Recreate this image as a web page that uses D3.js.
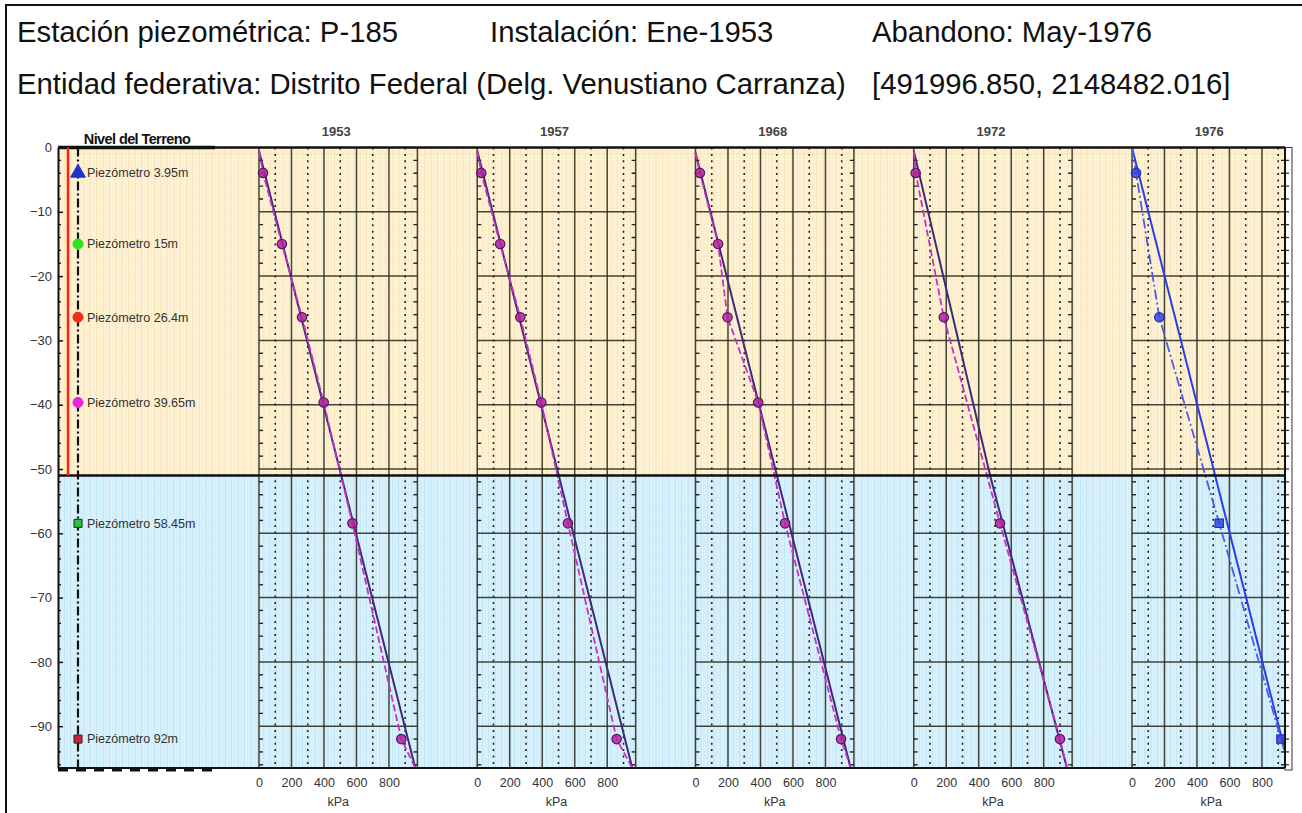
<!DOCTYPE html>
<html>
<head>
<meta charset="utf-8">
<script src="https://cdn.jsdelivr.net/npm/d3@7"></script>
<style>
  body { margin: 0; background: #fff; }
  text { font-family: "Liberation Sans", Arial, sans-serif; }
</style>
</head>
<body>
<div class="chart"></div>
<script>
// piezometer depths (m) and labels
const depths = [3.95, 15, 26.4, 39.65, 58.45, 92];
const piezoLabels = ["Piezómetro 3.95m", "Piezómetro 15m", "Piezómetro 26.4m",
                     "Piezómetro 39.65m", "Piezómetro 58.45m", "Piezómetro 92m"];
const piezoShapes = ["triangle", "circle", "circle", "circle", "square", "square"];
const piezoColors = ["#2233cc", "#33e01f", "#ee3311", "#ee22dd", "#22c838", "#cc2233"];

// measured pressures (kPa) per year, aligned with depths (null = no reading)
const years = ["1953", "1957", "1968", "1972", "1976"];
const p1953 = [25, 141, 265, 398, 575, 876];
const p1957 = [25, 141, 265, 394, 558, 858];
const p1968 = [27, 139, 197, 386, 551, 896];
const p1972 = [12, null, 185, null, 531, 900];
const p1976 = [25, null, 168, null, 537, 917];

// reference (solid) lines per year as [depth m, kPa]
const ref1953 = [[0.5, 0], [96.5, 962]];
const ref1957 = [[0.5, 0], [96.5, 954]];
const ref1968 = [[0.8, 0], [96.5, 955]];
const ref1972 = [[0.5, 0], [51, 470], [96.5, 943]];
const ref1976 = [[0, 0], [96.5, 968]];

const layerBoundary = 51;   // m, change of stratum (orange / blue)
const groundLine = 51;      // m, extent of red line
const depthTicks = d3.range(0, 91, 10);
const kpaTicks = [0, 200, 400, 600, 800];
const kpaDotted = [100, 300, 500, 700, 900];

const pressures = [p1953, p1957, p1968, p1972, p1976];
const refs = [ref1953, ref1957, ref1968, ref1972, ref1976];

const W = 1302, H = 813;
const plot = {left: 58, right: 1285, top: 147.5, bottom: 768};
const panelW = 158.4;

const symbolOf = s => s === "triangle" ? d3.symbolTriangle :
                      s === "square" ? d3.symbolSquare : d3.symbolCircle;

const svg = d3.select(".chart").append("svg")
    .attr("width", W)
    .attr("height", H);

// outer frame
svg.append("rect")
    .attr("x", 6).attr("y", 5)
    .attr("width", 1400).attr("height", 900)
    .attr("fill", "none")
    .attr("stroke", "#111")
    .attr("stroke-width", 2);

// header
const header = svg.append("g")
    .style("font-size", "29.3px")
    .attr("fill", "#111");
header.append("text").attr("x", 17).attr("y", 42).text("Estación piezométrica: P-185");
header.append("text").attr("x", 490).attr("y", 42).text("Instalación: Ene-1953");
header.append("text").attr("x", 872).attr("y", 42).text("Abandono: May-1976");
header.append("text").attr("x", 17).attr("y", 94).text("Entidad federativa: Distrito Federal (Delg. Venustiano Carranza)");
header.append("text").attr("x", 872).attr("y", 94).text("[491996.850, 2148482.016]");

const y = d3.scaleLinear()
    .domain([0, -96.5])
    .range([plot.top, plot.bottom]);

const panelX = d3.scaleLinear()
    .domain([0, years.length - 1])
    .range([259, 1132]);

svg.append("defs").append("clipPath")
    .attr("id", "plotclip")
    .append("rect")
    .attr("x", plot.left).attr("y", plot.top)
    .attr("width", plot.right - plot.left)
    .attr("height", plot.bottom - plot.top);

// backgrounds
const bgTop = y(0), bgMid = y(-layerBoundary), bgBot = plot.bottom;
svg.append("rect")
    .attr("x", plot.left).attr("y", bgTop)
    .attr("width", plot.right - plot.left).attr("height", bgMid - bgTop)
    .attr("fill", "#fef3d8");
svg.append("rect")
    .attr("x", plot.left).attr("y", bgMid)
    .attr("width", plot.right - plot.left).attr("height", bgBot - bgMid)
    .attr("fill", "#dbf2fc");

// fine background grid
const step = y(-1) - y(0);
const fine = svg.append("g").attr("class", "fine-grid");
const regions = [
    {y0: bgTop, y1: bgMid, color: "#f5d27f"},
    {y0: bgMid, y1: bgBot, color: "#93d4f0"}
];
regions.forEach(r => {
    const g = fine.append("g").attr("stroke", r.color);
    d3.range(plot.left, plot.right, step / 2).forEach((x, i) => {
        g.append("line")
            .attr("x1", x).attr("x2", x).attr("y1", r.y0).attr("y2", r.y1)
            .attr("stroke-width", 0.7)
            .attr("opacity", i % 2 ? 0.15 : 0.55);
    });
    d3.range(0, 97, 0.5).map(d => y(-d)).filter(v => v > r.y0 && v < r.y1).forEach(v => {
        g.append("line")
            .attr("x1", plot.left).attr("x2", plot.right).attr("y1", v).attr("y2", v)
            .attr("stroke-width", 0.7)
            .attr("opacity", Math.abs(((v - bgTop) / step) % 1) < 0.01 ? 0.55 : 0.15);
    });
});

// panels
const line = d3.line();
const panels = svg.append("g").attr("clip-path", "url(#plotclip)");

years.forEach((yr, i) => {
    const left = panelX(i);
    const right = Math.min(left + panelW, plot.right);
    const x = d3.scaleLinear().domain([0, 975]).range([left, left + panelW]);
    const g = panels.append("g").attr("class", "panel");
    const gridCol = "#262619";

    // horizontal grid
    depthTicks.slice(1).forEach(d => {
        g.append("line")
            .attr("x1", left).attr("x2", right)
            .attr("y1", y(-d)).attr("y2", y(-d))
            .attr("stroke", gridCol).attr("stroke-opacity", 0.85).attr("stroke-width", 1.5);
    });
    // vertical solid
    kpaTicks.concat([975]).forEach(v => {
        const xv = Math.min(x(v), right);
        g.append("line")
            .attr("x1", xv).attr("x2", xv)
            .attr("y1", plot.top).attr("y2", plot.bottom)
            .attr("stroke", gridCol).attr("stroke-opacity", 0.85).attr("stroke-width", 1.5);
    });
    // vertical dotted
    kpaDotted.filter(v => x(v) < right).forEach(v => {
        g.append("line")
            .attr("x1", x(v)).attr("x2", x(v))
            .attr("y1", plot.top).attr("y2", plot.bottom)
            .attr("stroke", "#222").attr("stroke-width", 1.6)
            .attr("stroke-dasharray", "2,4.4");
    });
    // edge ticks every 2 m
    d3.range(2, 97, 2).filter(d => d % 10).forEach(d => {
        g.append("line")
            .attr("x1", left).attr("x2", left + 4)
            .attr("y1", y(-d)).attr("y2", y(-d))
            .attr("stroke", "#222").attr("stroke-width", 1.4);
        g.append("line")
            .attr("x1", right - 4).attr("x2", right)
            .attr("y1", y(-d)).attr("y2", y(-d))
            .attr("stroke", "#222").attr("stroke-width", 1.4);
    });

    const last = i === years.length - 1;
    const solidCol = last ? "#2b3ee6" : "#3d2a78";
    const dashCol = last ? "#4c5ce8" : "#c830c4";
    const markFill = last ? "#3344e0" : "#b5229e";
    const markStroke = last ? "#1f2fbf" : "#4b1a6a";

    const pts = depths.map((d, j) => [d, pressures[i][j], j]).filter(p => p[1] !== null);
    const ref = refs[i];

    g.append("path")
        .attr("d", line(ref.map(p => [x(p[1]), y(-p[0])])))
        .attr("fill", "none")
        .attr("stroke", solidCol)
        .attr("stroke-width", 2);

    const dashed = [ref[0]].concat(pts.map(p => [p[0], p[1]]), [ref[ref.length - 1]]);
    g.append("path")
        .attr("d", line(dashed.map(p => [x(p[1]), y(-p[0])])))
        .attr("fill", "none")
        .attr("stroke", dashCol)
        .attr("stroke-width", 1.8)
        .attr("stroke-dasharray", last ? "10,3,2,3" : "7,3");

    g.selectAll(".mark")
        .data(pts)
        .enter().append("path")
        .attr("class", "mark")
        .attr("transform", p => "translate(" + x(p[1]) + "," + y(-p[0]) + ")")
        .attr("d", p => d3.symbol()
            .type(last && piezoShapes[p[2]] === "square" ? d3.symbolSquare : d3.symbolCircle)
            .size(70)())
        .attr("fill", markFill)
        .attr("fill-opacity", 0.85)
        .attr("stroke", markStroke)
        .attr("stroke-width", 1.2);

    // x axis
    const ax = svg.append("g")
        .attr("transform", "translate(0," + plot.bottom + ")")
        .call(d3.axisBottom(x).tickValues(kpaTicks).tickSize(0).tickPadding(10));
    ax.select(".domain").remove();
    ax.selectAll("text")
        .style("font-size", "12.5px")
        .style("font-family", "'Liberation Sans', Arial, sans-serif")
        .attr("fill", "#333");

    svg.append("text")
        .attr("x", left + panelW / 2)
        .attr("y", 806)
        .attr("text-anchor", "middle")
        .style("font-size", "12.5px")
        .attr("fill", "#333")
        .text("kPa");

    svg.append("text")
        .attr("x", left + panelW / 2 - 2)
        .attr("y", 136)
        .attr("text-anchor", "middle")
        .style("font-size", "13px")
        .style("font-weight", "bold")
        .attr("fill", "#444")
        .text(yr);
});

// frame lines
svg.append("line")
    .attr("x1", plot.left).attr("x2", plot.right)
    .attr("y1", y(0)).attr("y2", y(0))
    .attr("stroke", "#111").attr("stroke-width", 2.5);
svg.append("line")
    .attr("x1", plot.left).attr("x2", plot.right)
    .attr("y1", y(-layerBoundary)).attr("y2", y(-layerBoundary))
    .attr("stroke", "#111").attr("stroke-width", 2.5);
svg.append("line")
    .attr("x1", plot.left).attr("x2", plot.right)
    .attr("y1", plot.bottom).attr("y2", plot.bottom)
    .attr("stroke", "#111").attr("stroke-width", 2);

// right strip
svg.append("rect")
    .attr("x", plot.right).attr("y", plot.top)
    .attr("width", 7).attr("height", plot.bottom - plot.top + 2)
    .attr("fill", "#fff")
    .attr("stroke", "#333").attr("stroke-width", 1);
d3.range(2, 97, 2).forEach(d => {
    svg.append("line")
        .attr("x1", plot.right).attr("x2", plot.right + 4)
        .attr("y1", y(-d)).attr("y2", y(-d))
        .attr("stroke", "#222").attr("stroke-width", 1.2);
});
svg.append("line")
    .attr("x1", plot.right).attr("x2", plot.right)
    .attr("y1", plot.top).attr("y2", plot.bottom)
    .attr("stroke", "#111").attr("stroke-width", 2);

// y axis
const yAxis = svg.append("g")
    .attr("transform", "translate(" + plot.left + ",0)")
    .call(d3.axisLeft(y).tickValues(depthTicks.map(d => -d)).tickSizeInner(-5).tickSizeOuter(0).tickPadding(6));
yAxis.select(".domain").attr("stroke", "#111").attr("stroke-width", 2);
yAxis.selectAll("text")
    .style("font-size", "13px")
    .style("font-family", "'Liberation Sans', Arial, sans-serif")
    .attr("fill", "#333");
yAxis.selectAll(".tick line").attr("stroke", "#111").attr("stroke-width", 1.5);
d3.range(2, 97, 2).filter(d => d % 10).forEach(d => {
    svg.append("line")
        .attr("x1", plot.left).attr("x2", plot.left + 3)
        .attr("y1", y(-d)).attr("y2", y(-d))
        .attr("stroke", "#111").attr("stroke-width", 1.3);
});

// ground level column
const nivelRight = 215;
svg.append("line")
    .attr("x1", plot.left).attr("x2", nivelRight)
    .attr("y1", y(0)).attr("y2", y(0))
    .attr("stroke", "#111").attr("stroke-width", 3.5);
svg.append("line")
    .attr("x1", plot.left).attr("x2", nivelRight)
    .attr("y1", plot.bottom + 2).attr("y2", plot.bottom + 2)
    .attr("stroke", "#111").attr("stroke-width", 3)
    .attr("stroke-dasharray", "10,8");
svg.append("text")
    .attr("x", 137)
    .attr("y", 144)
    .attr("text-anchor", "middle")
    .style("font-size", "14.5px")
    .style("font-weight", "bold")
    .style("letter-spacing", "-0.6px")
    .attr("fill", "#111")
    .text("Nivel del Terreno");

svg.append("line")
    .attr("x1", 68).attr("x2", 68)
    .attr("y1", y(0)).attr("y2", y(-groundLine))
    .attr("stroke", "#ff2010").attr("stroke-width", 2.5);
svg.append("line")
    .attr("x1", 78).attr("x2", 78)
    .attr("y1", y(0)).attr("y2", plot.bottom)
    .attr("stroke", "#111").attr("stroke-width", 2.2)
    .attr("stroke-dasharray", "9,3,2,3");

const legend = svg.append("g")
    .selectAll("g")
    .data(depths)
    .enter().append("g")
    .attr("transform", d => "translate(78," + y(-d) + ")");
legend.append("path")
    .attr("d", (d, i) => d3.symbol()
        .type(symbolOf(piezoShapes[i]))
        .size(piezoShapes[i] === "square" ? 64 : piezoShapes[i] === "triangle" ? 95 : 80)())
    .attr("fill", (d, i) => piezoColors[i])
    .attr("stroke", (d, i) => piezoShapes[i] === "square" ? "#222" : piezoColors[i])
    .attr("stroke-width", 1);
legend.append("text")
    .attr("x", 9)
    .attr("dy", "0.35em")
    .style("font-size", "12.5px")
    .attr("fill", "#333")
    .text((d, i) => piezoLabels[i]);
</script>
</body>
</html>
